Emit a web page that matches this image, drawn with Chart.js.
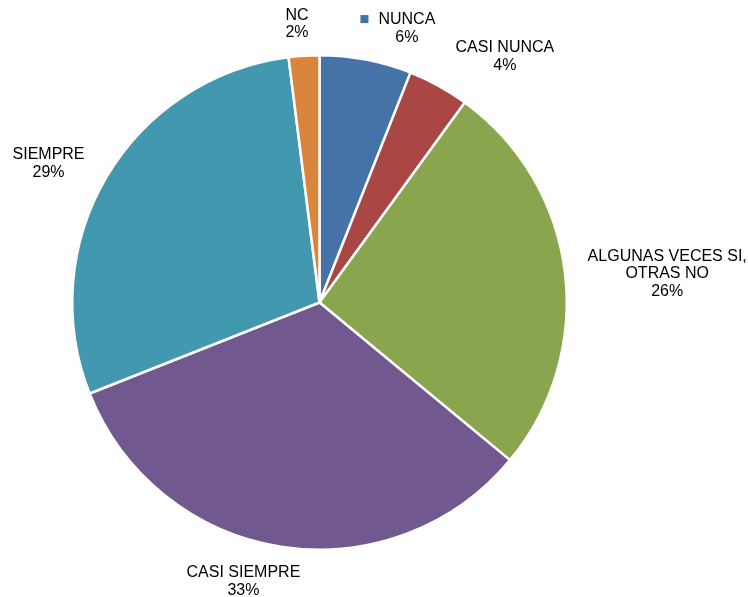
<!DOCTYPE html>
<html>
<head>
<meta charset="utf-8">
<script src="https://cdn.jsdelivr.net/npm/chart.js@4/dist/chart.umd.min.js"></script>
<style>
  html, body { margin: 0; padding: 0; background: #ffffff; }
  #wrap { width: 748px; height: 597px; position: relative; }
</style>
</head>
<body>
<div id="wrap"><canvas id="chart"></canvas></div>
<script>
// Answer categories and their shares (%)
const categories = ['NUNCA', 'CASI NUNCA', 'ALGUNAS VECES SI, OTRAS NO', 'CASI SIEMPRE', 'SIEMPRE', 'NC'];
const labelLines = [['NUNCA'], ['CASI NUNCA'], ['ALGUNAS VECES SI,', 'OTRAS NO'], ['CASI SIEMPRE'], ['SIEMPRE'], ['NC']];
const shares = [6, 4, 26, 33, 29, 2];
const sliceColors = ['#4572A7', '#AA4643', '#89A54E', '#71588F', '#4198AF', '#DB843D'];

// Outside labels: each placed around the slice's mid-angle, nudged by an
// angle (degrees) and a distance beyond the rim (px).
const outsideLabels = {
  id: 'outsideLabels',
  afterDatasetsDraw(chart, args, opts) {
    const ctx = chart.ctx;
    const meta = chart.getDatasetMeta(0);
    ctx.save();
    ctx.font = opts.font;
    ctx.fillStyle = opts.color;
    ctx.textAlign = 'center';
    ctx.textBaseline = 'middle';
    meta.data.forEach((arc, i) => {
      const p = arc.getProps(['x', 'y', 'startAngle', 'endAngle', 'outerRadius'], true);
      const mid = (p.startAngle + p.endAngle) / 2 + opts.angleNudge[i] * Math.PI / 180;
      const dist = p.outerRadius + opts.radiusNudge[i];
      const cx = p.x + Math.cos(mid) * dist;
      const cy = p.y + Math.sin(mid) * dist + 1;
      const lines = labelLines[i].concat([shares[i] + '%']);
      const top = cy - opts.lineHeight * (lines.length - 1) / 2;
      lines.forEach((t, k) => ctx.fillText(t, cx, top + k * opts.lineHeight));
      if (opts.showKey[i]) {
        const w = ctx.measureText(lines[0]).width;
        const left = cx - w / 2;
        ctx.fillStyle = sliceColors[i];
        ctx.fillRect(left - 18, top - 5, 8, 8);
        ctx.fillStyle = opts.color;
      }
    });
    ctx.restore();
  }
};

new Chart(document.getElementById('chart'), {
  type: 'pie',
  data: {
    labels: categories,
    datasets: [{
      data: shares,
      backgroundColor: sliceColors,
      borderColor: '#ffffff',
      borderWidth: 2.5,
      hoverOffset: 0
    }]
  },
  options: {
    responsive: true,
    maintainAspectRatio: false,
    animation: false,
    events: [],
    layout: { padding: { top: 54, bottom: 46, left: 71, right: 180 } },
    plugins: {
      legend: { display: false },
      tooltip: { enabled: false },
      outsideLabels: {
        font: '16px "Liberation Sans", Arial, sans-serif',
        color: '#000000',
        lineHeight: 17.5,
        angleNudge: [6.85, 8.1, 2.35, 6.3, -3.3, -1.0],
        radiusNudge: [41, 61.5, 101.7, 41, 57.7, 33],
        showKey: [true, false, false, false, false, false]
      }
    }
  },
  plugins: [outsideLabels]
});
</script>
</body>
</html>
